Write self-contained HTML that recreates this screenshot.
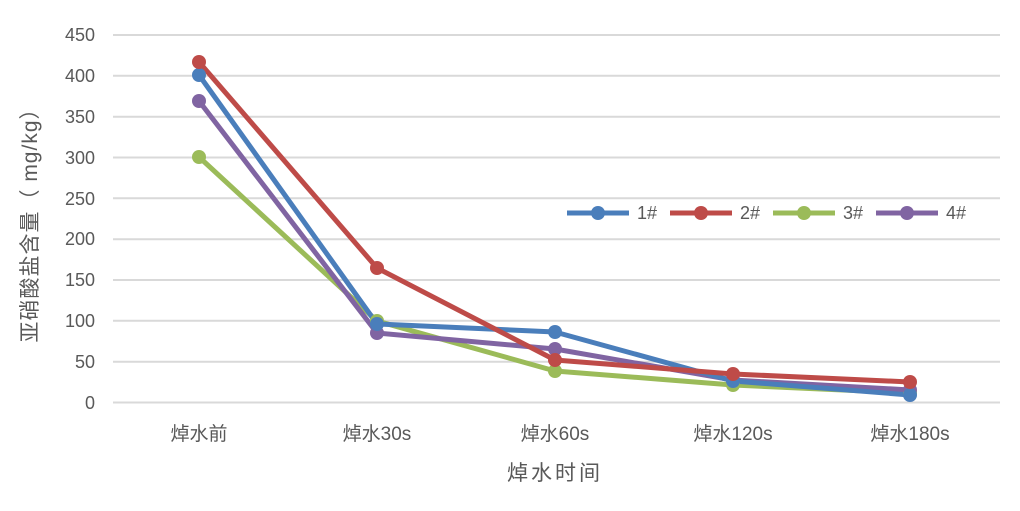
<!DOCTYPE html>
<html><head><meta charset="utf-8"><style>
body{margin:0;background:#fff;}
text{font-family:"Liberation Sans","Noto Sans CJK SC",sans-serif;fill:#595959;}
</style></head><body>
<svg width="1020" height="506" xmlns="http://www.w3.org/2000/svg">
<g stroke="#d9d9d9" stroke-width="2">
<line x1="113" x2="1000" y1="35" y2="35"/><line x1="113" x2="1000" y1="75.8" y2="75.8"/>
<line x1="113" x2="1000" y1="116.7" y2="116.7"/><line x1="113" x2="1000" y1="157.5" y2="157.5"/>
<line x1="113" x2="1000" y1="198.3" y2="198.3"/><line x1="113" x2="1000" y1="239.2" y2="239.2"/>
<line x1="113" x2="1000" y1="280" y2="280"/><line x1="113" x2="1000" y1="320.8" y2="320.8"/>
<line x1="113" x2="1000" y1="361.7" y2="361.7"/><line x1="113" x2="1000" y1="402.5" y2="402.5"/>
</g>
<g font-size="18" text-anchor="end">
<text x="95" y="41">450</text><text x="95" y="82">400</text><text x="95" y="123">350</text>
<text x="95" y="164">300</text><text x="95" y="205">250</text><text x="95" y="245">200</text>
<text x="95" y="286">150</text><text x="95" y="327">100</text><text x="95" y="368">50</text>
<text x="95" y="409">0</text>
</g>
<g font-size="19" text-anchor="middle">
<text x="199" y="440">焯水前</text><text x="377" y="440">焯水30s</text><text x="555" y="440">焯水60s</text>
<text x="733" y="440">焯水120s</text><text x="910" y="440">焯水180s</text>
<text x="555" y="480" font-size="21" letter-spacing="3">焯水时间</text>
<text transform="translate(37,220) rotate(-90)" font-size="21" letter-spacing="1">亚硝酸盐含量（ mg/kg）</text>
</g>
<g fill="none" stroke-width="5" stroke-linejoin="round">
<polyline stroke="#9bbb59" points="199,157 377,321 555,371 733,385 910,393"/>
<polyline stroke="#8064a2" points="199,101 377,333 555,349 733,380 910,390"/>
<polyline stroke="#4a7ebb" points="199,75 377,324 555,332 733,381 910,395"/>
<polyline stroke="#be4b48" points="199,62 377,268 555,360 733,374 910,382"/>
</g>
<g fill="#9bbb59"><circle cx="199" cy="157" r="7"/><circle cx="377" cy="321" r="7"/><circle cx="555" cy="371" r="7"/><circle cx="733" cy="385" r="7"/><circle cx="910" cy="393" r="7"/></g>
<g fill="#8064a2"><circle cx="199" cy="101" r="7"/><circle cx="377" cy="333" r="7"/><circle cx="555" cy="349" r="7"/><circle cx="733" cy="380" r="7"/><circle cx="910" cy="390" r="7"/></g>
<g fill="#4a7ebb"><circle cx="199" cy="75" r="7"/><circle cx="377" cy="324" r="7"/><circle cx="555" cy="332" r="7"/><circle cx="733" cy="381" r="7"/><circle cx="910" cy="395" r="7"/></g>
<g fill="#be4b48"><circle cx="199" cy="62" r="7"/><circle cx="377" cy="268" r="7"/><circle cx="555" cy="360" r="7"/><circle cx="733" cy="374" r="7"/><circle cx="910" cy="382" r="7"/></g>
<g stroke-width="5">
<line x1="567" x2="629" y1="213" y2="213" stroke="#4a7ebb"/><circle cx="598" cy="213" r="7" fill="#4a7ebb"/>
<line x1="670" x2="732" y1="213" y2="213" stroke="#be4b48"/><circle cx="701" cy="213" r="7" fill="#be4b48"/>
<line x1="773" x2="835" y1="213" y2="213" stroke="#9bbb59"/><circle cx="804" cy="213" r="7" fill="#9bbb59"/>
<line x1="876" x2="938" y1="213" y2="213" stroke="#8064a2"/><circle cx="907" cy="213" r="7" fill="#8064a2"/>
</g>
<g font-size="18"><text x="637" y="219">1#</text><text x="740" y="219">2#</text><text x="843" y="219">3#</text><text x="946" y="219">4#</text></g>
</svg>
</body></html>
